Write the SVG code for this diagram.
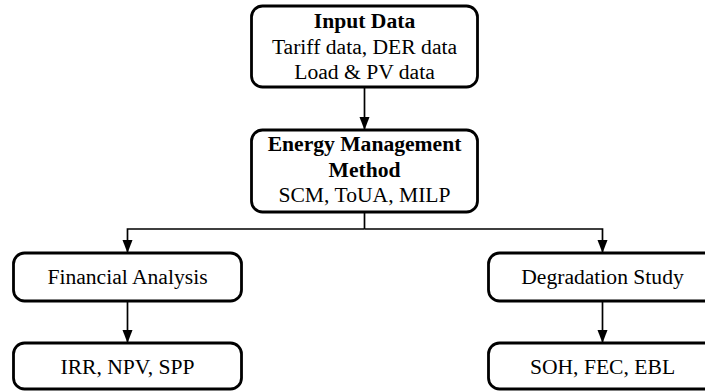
<svg xmlns="http://www.w3.org/2000/svg" width="705" height="391" viewBox="0 0 705 391">
  <style>
    .box { fill: #ffffff; stroke: #000000; stroke-width: 2.8; }
    .t { font-family: "Liberation Serif", "Times New Roman", serif; font-size: 21.6px; fill: #000000; text-anchor: middle; }
    .b { font-weight: bold; }
    .edge { fill: none; stroke: #000000; stroke-width: 1.7; }
  </style>
  <defs>
    <marker id="arrow" markerUnits="userSpaceOnUse" markerWidth="14" markerHeight="14" viewBox="0 0 14 14" refX="13" refY="7" orient="auto">
      <path d="M0,2 L13,7 L0,12 Z" fill="#000000"/>
    </marker>
  </defs>
  <rect width="705" height="391" fill="#ffffff"/>

  <g id="connectors">
    <line class="edge" x1="364.5" y1="87" x2="364.5" y2="130" marker-end="url(#arrow)"/>
    <line class="edge" x1="364.5" y1="212" x2="364.5" y2="229"/>
    <path class="edge" d="M364.5,229 H127.5 V253" marker-end="url(#arrow)"/>
    <path class="edge" d="M364.5,229 H602.5 V253" marker-end="url(#arrow)"/>
    <line class="edge" x1="127.5" y1="301" x2="127.5" y2="343" marker-end="url(#arrow)"/>
    <line class="edge" x1="602.5" y1="301" x2="602.5" y2="343" marker-end="url(#arrow)"/>
  </g>

  <g id="input-data">
    <rect class="box" x="251.5" y="6" width="226" height="81" rx="11"/>
    <text class="t b" x="364.5" y="28">Input Data</text>
    <text class="t" x="364.5" y="54">Tariff data, DER data</text>
    <text class="t" x="364.5" y="79">Load &amp; PV data</text>
  </g>

  <g id="energy-management">
    <rect class="box" x="251.5" y="130" width="226" height="82" rx="11"/>
    <text class="t b" x="364.5" y="151">Energy Management</text>
    <text class="t b" x="364.5" y="176.5">Method</text>
    <text class="t" x="364.5" y="201.5">SCM, ToUA, MILP</text>
  </g>

  <g id="financial-analysis">
    <rect class="box" x="13.5" y="253" width="228" height="48" rx="11"/>
    <text class="t" x="127.5" y="284">Financial Analysis</text>
  </g>

  <g id="degradation-study">
    <rect class="box" x="488.5" y="253" width="228" height="48" rx="11"/>
    <text class="t" x="602.5" y="284">Degradation Study</text>
  </g>

  <g id="financial-metrics">
    <rect class="box" x="13.5" y="343" width="228" height="46" rx="11"/>
    <text class="t" x="127.5" y="374">IRR, NPV, SPP</text>
  </g>

  <g id="degradation-metrics">
    <rect class="box" x="488.5" y="343" width="228" height="46" rx="11"/>
    <text class="t" x="602.5" y="374">SOH, FEC, EBL</text>
  </g>
</svg>
